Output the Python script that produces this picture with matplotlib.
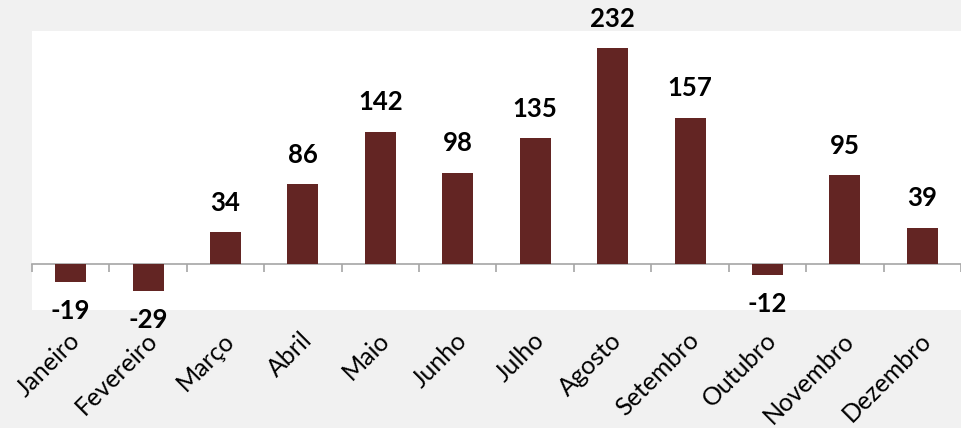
import matplotlib.pyplot as plt
import matplotlib.transforms as mtransforms
import numpy as np

# data
meses = ["Janeiro", "Fevereiro", "Março", "Abril", "Maio", "Junho",
         "Julho", "Agosto", "Setembro", "Outubro", "Novembro", "Dezembro"]
valores = [-19, -29, 34, 86, 142, 98, 135, 232, 157, -12, 95, 39]

bar_cor = "#632523"
fundo = "#f1f1f1"

fig = plt.figure(figsize=(9.61, 4.28), dpi=100, facecolor=fundo)
# white plot area runs off the right edge, like the original crop
ax = fig.add_axes([32/961, 1 - 310/428, (961-32)/961, (310-31)/428])
ax.set_facecolor("white")

x = np.arange(len(meses))
ax.bar(x, valores, width=0.4, color=bar_cor, zorder=3)

ax.set_xlim(-0.5, -0.5 + (961-32)/77.8)
ax.set_ylim(-49.5, 250)

for s in ["top", "right", "left"]:
    ax.spines[s].set_visible(False)
ax.spines["bottom"].set_position(("data", 0))
ax.spines["bottom"].set_color("#a6a6a6")
ax.spines["bottom"].set_linewidth(1.2)
ax.set_yticks([])
ax.set_xticks(np.arange(-0.5, 12, 1.0))
ax.tick_params(axis="x", direction="out", length=6, width=1.2,
               color="#a6a6a6", labelbottom=False)

# value labels
for xi, v in zip(x, valores):
    off = 21 if v >= 0 else -21
    ax.annotate(str(v), (xi, v), xytext=(0, off), textcoords="offset points",
                ha="center", va="center", fontsize=18.5, fontweight="bold",
                family="Lato", color="black", annotation_clip=False)

# month labels under the plot area
trans = mtransforms.blended_transform_factory(ax.transData, ax.transAxes)
for xi, m in zip(x, meses):
    ax.text(xi + 0.07, -0.095, m, transform=trans, rotation=45,
            rotation_mode="anchor", ha="right", va="center",
            fontsize=18, family="Lato", color="black")

fig.savefig("out.png", dpi=100, facecolor=fundo)
